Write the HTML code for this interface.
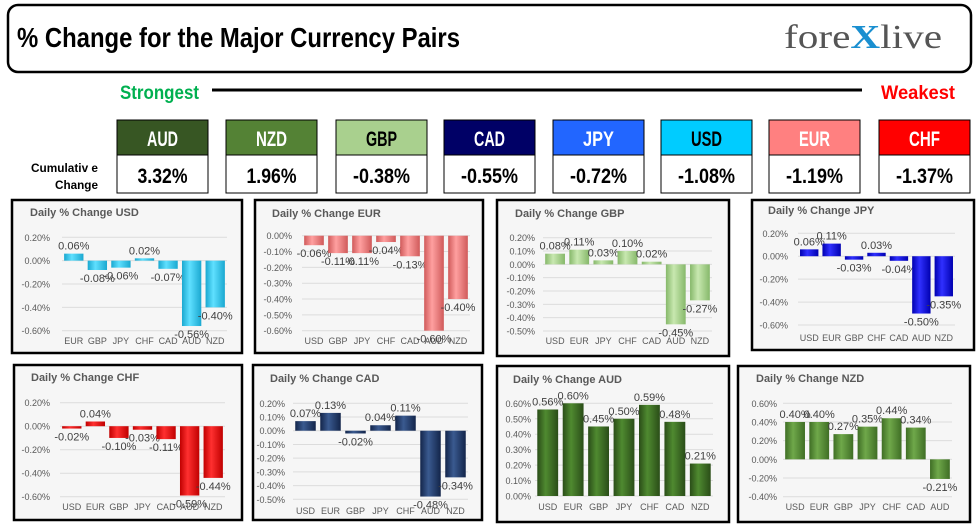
<!DOCTYPE html>
<html><head><meta charset="utf-8">
<style>
html,body{margin:0;padding:0;background:#fff;width:978px;height:530px;overflow:hidden}
svg{display:block}
.imp{font-family:"Liberation Sans Narrow","Liberation Sans",sans-serif;font-weight:bold}
</style></head>
<body>
<svg id="main" width="978" height="530" viewBox="0 0 978 530" xmlns="http://www.w3.org/2000/svg">
<defs></defs>
<rect x="8" y="5" width="963" height="67" rx="10" fill="#fff" stroke="#000" stroke-width="2.5"/>
<text class="imp" x="17" y="47" font-size="28" textLength="443" lengthAdjust="spacingAndGlyphs" fill="#000">% Change for the Major Currency Pairs</text>
<text x="784" y="48" font-family="Liberation Serif, serif" font-size="34" fill="#555" textLength="158" lengthAdjust="spacingAndGlyphs">fore<tspan fill="#1a8fd0" font-weight="bold">X</tspan>live</text>
<text class="imp" x="120" y="99" font-size="19" fill="#00b050" textLength="79" lengthAdjust="spacingAndGlyphs">Strongest</text>
<rect x="212" y="88.5" width="650" height="3" fill="#000"/>
<text class="imp" x="881" y="99" font-size="19" fill="#ff0000" textLength="74" lengthAdjust="spacingAndGlyphs">Weakest</text>
<text class="imp" x="31" y="172" font-size="12" fill="#000" textLength="67" lengthAdjust="spacingAndGlyphs">Cumulativ e</text>
<text class="imp" x="55" y="189" font-size="12" fill="#000" textLength="43" lengthAdjust="spacingAndGlyphs">Change</text>
<g id="boxes"></g>
<g id="charts"></g>
</svg>
<script>
const NS="http://www.w3.org/2000/svg";
function mk(tag,attrs,parent,txt){const e=document.createElementNS(NS,tag);for(const k in attrs)e.setAttribute(k,attrs[k]);if(txt!==undefined)e.textContent=txt;parent.appendChild(e);return e;}

const boxCurrencies=["AUD","NZD","GBP","CAD","JPY","USD","EUR","CHF"];
const boxValues=[3.32,1.96,-0.38,-0.55,-0.72,-1.08,-1.19,-1.37];
const boxFill=["#375623","#548235","#a9d08e","#000066","#2266ff","#00ccff","#ff8080","#ff0000"];
const boxText=["#fff","#fff","#000","#fff","#fff","#000","#fff","#fff"];
const boxX=[117,226,336,444,553,661,769,879];

const bg=document.getElementById('boxes');
boxCurrencies.forEach((c,i)=>{
  const x=boxX[i], w=91;
  const h=mk('rect',{x:x,y:120,width:w,height:35,fill:boxFill[i],stroke:"#000","stroke-width":1},bg);
  
  
  const t=mk('text',{x:x+w/2,y:146,"text-anchor":"middle","font-size":21,fill:boxText[i],"class":"imp",textLength:31,lengthAdjust:"spacingAndGlyphs"},bg,c);
  
  
  const v=mk('rect',{x:x,y:155,width:w,height:38,fill:"#fff",stroke:"#000","stroke-width":1},bg);
  
  
  const tv=mk('text',{x:x+w/2,y:183,"text-anchor":"middle","font-size":21,fill:"#000","class":"imp",textLength:(boxValues[i]<0?57:50),lengthAdjust:"spacingAndGlyphs"},bg,boxValues[i].toFixed(2)+"%");
  
  
});

// chart data
const usdCats=["EUR","GBP","JPY","CHF","CAD","AUD","NZD"];
const usdVals=[0.06,-0.08,-0.06,0.02,-0.07,-0.56,-0.40];
const eurCats=["USD","GBP","JPY","CHF","CAD","AUD","NZD"];
const eurVals=[-0.06,-0.11,-0.11,-0.04,-0.13,-0.60,-0.40];
const gbpCats=["USD","EUR","JPY","CHF","CAD","AUD","NZD"];
const gbpVals=[0.08,0.11,0.03,0.10,0.02,-0.45,-0.27];
const jpyCats=["USD","EUR","GBP","CHF","CAD","AUD","NZD"];
const jpyVals=[0.06,0.11,-0.03,0.03,-0.04,-0.50,-0.35];
const chfCats=["USD","EUR","GBP","JPY","CAD","AUD","NZD"];
const chfVals=[-0.02,0.04,-0.10,-0.03,-0.11,-0.59,-0.44];
const cadCats=["USD","EUR","GBP","JPY","CHF","AUD","NZD"];
const cadVals=[0.07,0.13,-0.02,0.04,0.11,-0.48,-0.34];
const audCats=["USD","EUR","GBP","JPY","CHF","CAD","NZD"];
const audVals=[0.56,0.60,0.45,0.50,0.59,0.48,0.21];
const nzdCats=["USD","EUR","GBP","JPY","CHF","CAD","AUD"];
const nzdVals=[0.40,0.40,0.27,0.35,0.44,0.34,-0.21];
const usdTicks=[0.2,0,-0.2,-0.4,-0.6];
const eurTicks=[0,-0.1,-0.2,-0.3,-0.4,-0.5,-0.6];
const gbpTicks=[0.2,0.1,0,-0.1,-0.2,-0.3,-0.4,-0.5];
const jpyTicks=[0.2,0,-0.2,-0.4,-0.6];
const chfTicks=[0.2,0,-0.2,-0.4,-0.6];
const cadTicks=[0.2,0.1,0,-0.1,-0.2,-0.3,-0.4,-0.5];
const audTicks=[0.6,0.5,0.4,0.3,0.2,0.1,0];
const nzdTicks=[0.6,0.4,0.2,0,-0.2,-0.4];

const charts=[
 {id:"usd",title:"Daily % Change USD",cats:usdCats,vals:usdVals,ticks:usdTicks,box:[12,200,230,153],tx:30,ty:216,px0:62,px1:227,py0:237.3,py1:330.7,lx:50,cy:344,c1:"#1aa8d0",c2:"#5fe0ff"},
 {id:"eur",title:"Daily % Change EUR",cats:eurCats,vals:eurVals,ticks:eurTicks,box:[255,200,228,153],tx:272,ty:217,px0:302,px1:470,py0:235.7,py1:330.7,lx:292,cy:344,c1:"#d05a5a",c2:"#ffa0a0"},
 {id:"gbp",title:"Daily % Change GBP",cats:gbpCats,vals:gbpVals,ticks:gbpTicks,box:[497,200,232,156],tx:515,ty:217,px0:543,px1:712,py0:237.7,py1:331,lx:535,cy:344,c1:"#86b86a",c2:"#c8e8b0"},
 {id:"jpy",title:"Daily % Change JPY",cats:jpyCats,vals:jpyVals,ticks:jpyTicks,box:[752,200,222,150],tx:768,ty:214,px0:798,px1:955,py0:233.3,py1:325,lx:788,cy:341,c1:"#0000b0",c2:"#3030ff"},
 {id:"chf",title:"Daily % Change CHF",cats:chfCats,vals:chfVals,ticks:chfTicks,box:[14,365,228,155],tx:31,ty:381,px0:60,px1:225,py0:402.7,py1:496.7,lx:50,cy:510,c1:"#c00000",c2:"#ff3030"},
 {id:"cad",title:"Daily % Change CAD",cats:cadCats,vals:cadVals,ticks:cadTicks,box:[253,365,229,155],tx:270,ty:382,px0:293,px1:468,py0:403.3,py1:499.3,lx:285,cy:514,c1:"#13254a",c2:"#3a5a90"},
 {id:"aud",title:"Daily % Change AUD",cats:audCats,vals:audVals,ticks:audTicks,box:[497,366,232,156],tx:513,ty:383,px0:535,px1:713,py0:403.3,py1:496,lx:531,cy:510,c1:"#2a4d18",c2:"#4f8a30"},
 {id:"nzd",title:"Daily % Change NZD",cats:nzdCats,vals:nzdVals,ticks:nzdTicks,box:[738,366,232,156],tx:756,ty:382,px0:783,px1:952,py0:403.3,py1:496.7,lx:777,cy:510,c1:"#3f6e25",c2:"#6fa84a"}
];

const defs=document.querySelector('defs');
const cg=document.getElementById('charts');
charts.forEach(ch=>{
  const gr=mk('linearGradient',{id:"g-"+ch.id,x1:0,x2:1,y1:0,y2:0},defs);
  mk('stop',{offset:"0",  "stop-color":ch.c1},gr);
  mk('stop',{offset:"0.4","stop-color":ch.c2},gr);
  mk('stop',{offset:"1",  "stop-color":ch.c1},gr);
  const g=mk('g',{},cg);
  
  
  const b=ch.box;
  const fr=mk('rect',{x:b[0],y:b[1],width:b[2],height:b[3],fill:"#f6f6f6",stroke:"#000","stroke-width":2.5},g);
  
  
  const tt=mk('text',{x:ch.tx,y:ch.ty,"font-family":"Liberation Sans, sans-serif","font-size":11,"font-weight":"bold",fill:"#595959"},g,ch.title);
  
  
  const tmax=Math.max(...ch.ticks), tmin=Math.min(...ch.ticks);
  const y=v=>ch.py0+(tmax-v)/(tmax-tmin)*(ch.py1-ch.py0);
  ch.ticks.forEach(t=>{
    const gl=mk('line',{x1:ch.px0,x2:ch.px1,y1:y(t),y2:y(t),stroke:"#dcdcdc","stroke-width":1},g);
    
    
    const tl=mk('text',{x:ch.lx,y:y(t)+3.5,"text-anchor":"end","font-family":"Liberation Sans, sans-serif","font-size":9,fill:"#595959"},g,t.toFixed(2)+"%");
    
    
  });
  const n=ch.cats.length, slot=(ch.px1-ch.px0)/n, bw=slot*0.82;
  ch.cats.forEach((c,i)=>{
    const v=ch.vals[i], cx=ch.px0+slot*(i+0.5);
    const y0=y(0), yv=y(v);
    const bar=mk('rect',{x:cx-bw/2,y:Math.min(y0,yv),width:bw,height:Math.max(1.5,Math.abs(yv-y0)),fill:"url(#g-"+ch.id+")"},g);
    
    
    const cl=mk('text',{x:cx,y:ch.cy,"text-anchor":"middle","font-family":"Liberation Sans, sans-serif","font-size":9,fill:"#595959"},g,c);
    
    
    const ly=v>=0?yv-4:yv+12;
    const vl=mk('text',{x:cx,y:ly,"text-anchor":"middle","font-family":"Liberation Sans, sans-serif","font-size":11,fill:"#404040"},g,v.toFixed(2)+"%");
    
    
  });
});
</script>
</body></html>
